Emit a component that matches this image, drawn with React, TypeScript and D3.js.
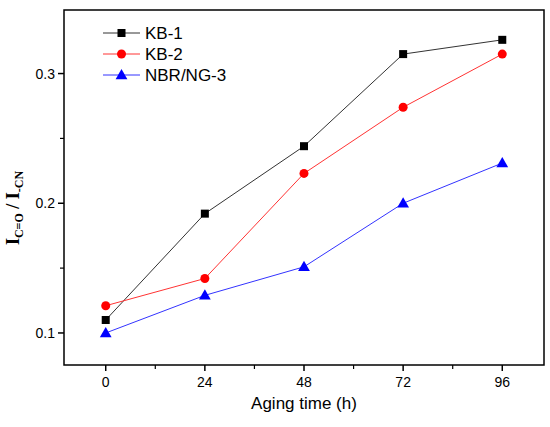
import React from "react";
import * as d3 from "d3";

const hours = [0, 24, 48, 72, 96];
const kb1 = [0.110, 0.192, 0.244, 0.315, 0.326];
const kb2 = [0.121, 0.142, 0.223, 0.274, 0.315];
const nbr = [0.100, 0.129, 0.151, 0.200, 0.231];
const seriesNames = ["KB-1", "KB-2", "NBR/NG-3"];
const yTicks = [0.1, 0.2, 0.3];
const yMinor = [0.15, 0.25];
const xMinor = [12, 36, 60, 84];

const W = 550, H = 427;
const L = 64, R = 544, T = 10, B = 365;

export default function App() {
  const x = d3.scaleLinear().domain([-10.1, 106.1]).range([L, R]);
  const y = d3.scaleLinear().domain([0.0753, 0.349]).range([B, T]);
  const line = d3.line<number>().x((_, i) => x(hours[i])).y((d) => y(d));
  const series = [
    { name: seriesNames[0], data: kb1, line: "#333333", fill: "#000000", shape: "square" },
    { name: seriesNames[1], data: kb2, line: "#ff3333", fill: "#ff0000", shape: "circle" },
    { name: seriesNames[2], data: nbr, line: "#3333ff", fill: "#0000ff", shape: "triangle" },
  ];
  const marker = (shape: string, cx: number, cy: number, fill: string, key: string) => {
    if (shape === "square") return <rect key={key} x={cx - 4} y={cy - 4} width={8} height={8} fill={fill} />;
    if (shape === "circle") return <circle key={key} cx={cx} cy={cy} r={4.5} fill={fill} />;
    const p = d3.symbol(d3.symbolTriangle, 60)();
    return <path key={key} d={p || ""} transform={`translate(${cx},${cy + 0.8})`} fill={fill} />;
  };
  const font = "Arial, 'Liberation Sans', sans-serif";
  return (
    <svg width={W} height={H} style={{ position: "absolute", left: 0, top: 0, background: "#fff" }}>
      <rect x={0} y={0} width={W} height={H} fill="#fff" />
      {series.map((s) => (
        <g key={s.name}>
          <path d={line(s.data) || ""} fill="none" stroke={s.line} strokeWidth={1} />
          {s.data.map((v, i) => marker(s.shape, x(hours[i]), y(v), s.fill, s.name + i))}
        </g>
      ))}
      <rect x={L} y={T} width={R - L} height={B - T} fill="none" stroke="#000" strokeWidth={1.5} />
      {yTicks.map((t) => (
        <g key={t}>
          <line x1={L - 6} x2={L} y1={y(t)} y2={y(t)} stroke="#000" strokeWidth={1.5} />
          <text x={L - 9} y={y(t) + 5} textAnchor="end" fontFamily={font} fontSize={14}>{t.toFixed(1)}</text>
        </g>
      ))}
      {yMinor.map((t) => (
        <line key={t} x1={L - 4} x2={L} y1={y(t)} y2={y(t)} stroke="#000" strokeWidth={1.2} />
      ))}
      {hours.map((t) => (
        <g key={t}>
          <line x1={x(t)} x2={x(t)} y1={B} y2={B + 6} stroke="#000" strokeWidth={1.5} />
          <text x={x(t)} y={B + 22} textAnchor="middle" fontFamily={font} fontSize={14}>{t}</text>
        </g>
      ))}
      {xMinor.map((t) => (
        <line key={t} x1={x(t)} x2={x(t)} y1={B} y2={B + 4} stroke="#000" strokeWidth={1.2} />
      ))}
      <text x={(L + R) / 2} y={409} textAnchor="middle" fontFamily={font} fontSize={17}>Aging time (h)</text>
      <text transform="translate(19,208) rotate(-90)" textAnchor="middle" fontFamily="'Liberation Serif', 'Times New Roman', serif" fontWeight="bold" fontSize={18}>
        <tspan>I</tspan>
        <tspan fontSize={12} dy={4}>C=O</tspan>
        <tspan dy={-4}> / I</tspan>
        <tspan fontSize={12} dy={4}>-CN</tspan>
      </text>
      {series.map((s, i) => {
        const ly = 33 + i * 21;
        return (
          <g key={"lg" + s.name}>
            <line x1={103} x2={140} y1={ly} y2={ly} stroke={s.line} strokeWidth={1} />
            {marker(s.shape, 121.5, ly, s.fill, "lm" + i)}
            <text x={145} y={ly + 6} fontFamily={font} fontSize={17}>{s.name}</text>
          </g>
        );
      })}
    </svg>
  );
}
